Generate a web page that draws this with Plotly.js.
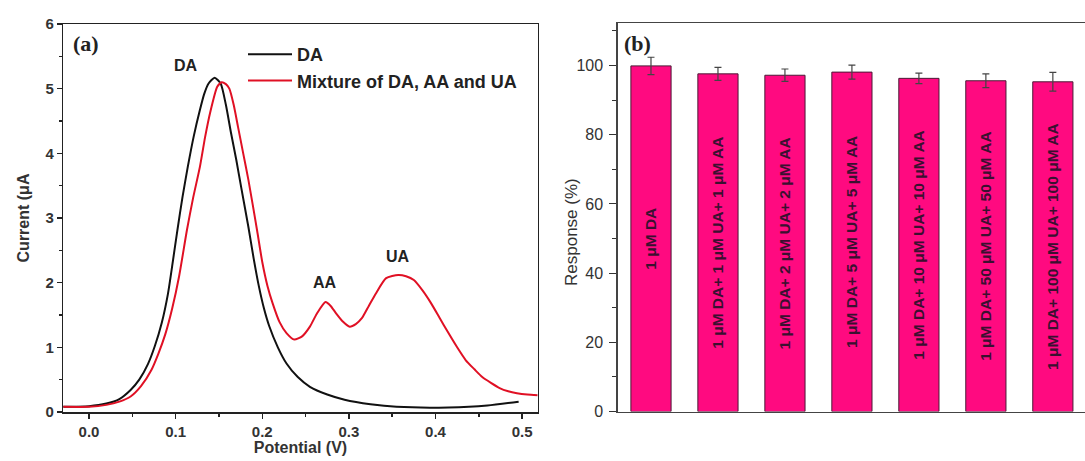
<!DOCTYPE html>
<html><head><meta charset="utf-8">
<script src="https://cdn.plot.ly/plotly-3.0.1.min.js"></script>
<style>body{margin:0;padding:0;background:#fff}#c{width:1085px;height:461px}</style>
</head><body><div id="c"></div>
<script>
// Panel (a): DPV curves
const potDA = [-0.030,0.0,0.02,0.035,0.048,0.058,0.068,0.076,0.084,0.091,0.097,0.102,0.108,0.114,0.121,0.128,0.133,0.138,0.145,0.152,0.158,0.164,0.170,0.176,0.184,0.190,0.196,0.202,0.208,0.218,0.228,0.241,0.255,0.275,0.295,0.325,0.355,0.415,0.46,0.496];
const curDA = [0.08,0.09,0.13,0.2,0.34,0.5,0.74,1.02,1.38,1.82,2.35,2.81,3.33,3.79,4.27,4.67,4.92,5.08,5.17,5.08,4.75,4.31,3.9,3.45,2.86,2.38,1.95,1.6,1.33,1.0,0.75,0.54,0.39,0.27,0.19,0.12,0.08,0.07,0.1,0.16];
const potMix = [-0.030,0.0,0.02,0.035,0.048,0.06,0.072,0.08,0.088,0.096,0.104,0.113,0.120,0.128,0.134,0.140,0.148,0.153,0.158,0.162,0.167,0.172,0.178,0.184,0.194,0.200,0.206,0.212,0.220,0.228,0.237,0.246,0.255,0.263,0.273,0.279,0.285,0.293,0.301,0.308,0.315,0.323,0.331,0.343,0.357,0.366,0.375,0.385,0.395,0.405,0.415,0.425,0.435,0.445,0.454,0.464,0.474,0.484,0.494,0.506,0.518];
const curMix = [0.08,0.08,0.11,0.16,0.24,0.4,0.65,0.9,1.2,1.6,2.1,2.81,3.3,3.79,4.25,4.64,5.03,5.1,5.07,5.0,4.75,4.41,4.0,3.59,2.81,2.32,1.95,1.68,1.39,1.22,1.12,1.17,1.32,1.52,1.70,1.64,1.53,1.40,1.32,1.36,1.45,1.64,1.83,2.07,2.12,2.1,2.04,1.88,1.68,1.45,1.22,1.0,0.80,0.66,0.54,0.45,0.37,0.32,0.29,0.27,0.26];
const seriesNames = ['DA','Mixture of DA, AA and UA'];
const peakLabels = ['DA','AA','UA'];
const peakX = [0.112,0.272,0.357];
const peakY = [5.36,2.01,2.40];
const xTickVals = [0.0,0.1,0.2,0.3,0.4,0.5];
const xTickText = ['0.0','0.1','0.2','0.3','0.4','0.5'];
const yTickVals = [0,1,2,3,4,5,6];
const yTickText = ['0','1','2','3','4','5','6'];

// Panel (b): response bars
const categories = ['1 μM DA','1 μM DA+ 1 μM UA+ 1 μM AA','1 μM DA+ 2 μM UA+ 2 μM AA','1 μM DA+ 5 μM UA+ 5 μM AA','1 μM DA+ 10 μM UA+ 10 μM AA','1 μM DA+ 50 μM UA+ 50 μM AA','1 μM DA+ 100 μM UA+ 100 μM AA'];
const response = [99.9,97.6,97.2,98.1,96.3,95.6,95.3];
const responseErr = [2.5,1.9,1.8,2.0,1.5,2.0,2.7];

const FONT = 'Liberation Sans, Arial, sans-serif';
const B = (s) => '<b>' + s + '</b>';

const traces = [
  {x: potDA, y: curDA, name: B(seriesNames[0]), type: 'scatter', mode: 'lines', line: {color: '#111', width: 2, shape: 'spline', smoothing: 0.6}, xaxis: 'x', yaxis: 'y'},
  {x: potMix, y: curMix, name: B(seriesNames[1]), type: 'scatter', mode: 'lines', line: {color: '#e01024', width: 2, shape: 'spline', smoothing: 0.6}, xaxis: 'x', yaxis: 'y'},
  {x: categories, y: response, type: 'bar', showlegend: false, xaxis: 'x2', yaxis: 'y2',
   marker: {color: '#ff0a80', line: {color: '#4a1a35', width: 1}},
   error_y: {type: 'data', array: responseErr, visible: true, color: '#444', thickness: 1.2, width: 3.5},
   text: categories.map(B), textposition: 'inside', insidetextanchor: 'middle', textangle: -90,
   textfont: {family: FONT, size: 15.5, color: '#3a1030'}, cliponaxis: false,
   hoverinfo: 'skip'}
];

const annotations = peakLabels.map((t, i) => ({x: peakX[i], y: peakY[i], xref: 'x', yref: 'y', text: B(t), showarrow: false, font: {family: FONT, size: 16, color: '#222'}}));
annotations.push({xref: 'paper', yref: 'paper', x: 0.0655, y: 1 - 43/461, xanchor: 'left', yanchor: 'middle', text: B('(a)'), showarrow: false, font: {family: 'Liberation Serif, Times New Roman, serif', size: 22, color: '#222'}});
annotations.push({xref: 'paper', yref: 'paper', x: 0.5735, y: 1 - 43/461, xanchor: 'left', yanchor: 'middle', text: B('(b)'), showarrow: false, font: {family: 'Liberation Serif, Times New Roman, serif', size: 22, color: '#222'}});
annotations.push({xref: 'paper', yref: 'paper', x: 571/1085, y: 1 - 232/461, xanchor: 'center', yanchor: 'middle', textangle: -90, text: 'Response (%)', showarrow: false, font: {family: FONT, size: 17, color: '#333'}});

const layout = {
  width: 1085, height: 461, margin: {l: 0, r: 0, t: 0, b: 0},
  paper_bgcolor: '#fff', plot_bgcolor: '#fff', showlegend: true,
  legend: {x: 243/1085, y: 1 - 36/461, xanchor: 'left', yanchor: 'top', bgcolor: 'rgba(0,0,0,0)', font: {family: FONT, size: 18, color: '#222'}, tracegroupgap: 0, itemwidth: 44},
  xaxis: {domain: [63.3/1085, 537.7/1085], range: [-0.0297, 0.518], showgrid: false, zeroline: false, showline: true, linecolor: '#222', linewidth: 1.5, mirror: true,
    ticks: 'outside', ticklen: 5, tickwidth: 1.5, tickcolor: '#222', tickmode: 'array', tickvals: xTickVals, ticktext: xTickText.map(B), tickfont: {family: FONT, size: 15, color: '#333'},
    minor: {dtick: 0.05, tick0: 0, ticks: 'outside', ticklen: 3, tickcolor: '#222'},
    title: {text: B('Potential (V)'), font: {family: FONT, size: 16, color: '#333'}, standoff: 2}},
  yaxis: {domain: [1 - 412/461, 1 - 24/461], range: [0, 6], showgrid: false, zeroline: false, showline: true, linecolor: '#222', linewidth: 1.5, mirror: true,
    ticks: 'outside', ticklen: 5, tickwidth: 1.5, tickcolor: '#222', tickmode: 'array', tickvals: yTickVals, ticktext: yTickText.map(B), tickfont: {family: FONT, size: 15, color: '#333'},
    minor: {dtick: 0.5, ticks: 'outside', ticklen: 3, tickcolor: '#222'},
    title: {text: B('Current (μA'), font: {family: FONT, size: 16, color: '#333'}, standoff: 12}},
  xaxis2: {domain: [617.5/1085, 1.0], range: [-0.5, 6.48], showgrid: false, zeroline: false, showline: true, linecolor: '#444', linewidth: 1.2, mirror: true,
    ticks: '', showticklabels: false, anchor: 'y2'},
  yaxis2: {domain: [1 - 411.5/461, 1 - 23/461], range: [0, 112.3], showgrid: false, zeroline: false, showline: true, linecolor: '#444', linewidth: 1.2, anchor: 'x2',
    ticks: 'outside', ticklen: 7, tickwidth: 1, tickcolor: '#333', dtick: 20, ticklabelstandoff: 3, tickfont: {family: FONT, size: 16, color: '#333'},
    minor: {dtick: 10, ticks: 'outside', ticklen: 4, tickcolor: '#333'}},
  bargap: 0.4,
  annotations: annotations
};

Plotly.newPlot('c', traces, layout, {staticPlot: true, displayModeBar: false});
</script></body></html>
